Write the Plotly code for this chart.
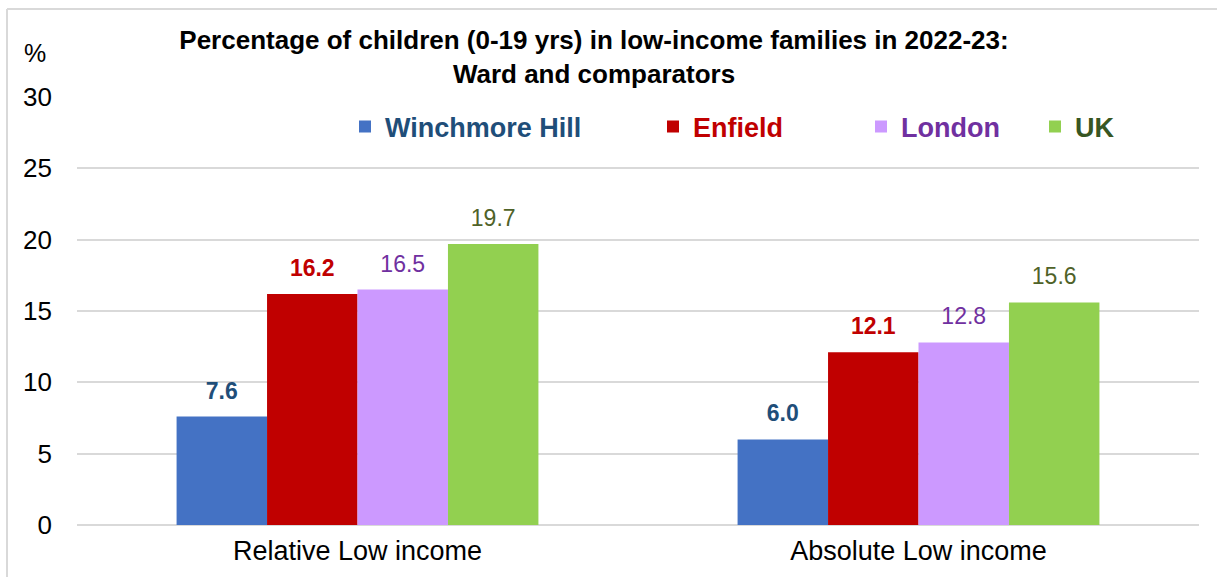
import plotly.graph_objects as go

categories = ["Relative Low income", "Absolute Low income"]
series_names = ["Winchmore Hill", "Enfield", "London", "UK"]
winchmore_hill = [7.6, 6.0]
enfield = [16.2, 12.1]
london = [16.5, 12.8]
uk = [19.7, 15.6]
values = [winchmore_hill, enfield, london, uk]

bar_colors = ["#4472C4", "#C00000", "#CC99FF", "#92D050"]
label_colors = ["#1F4E79", "#C00000", "#7030A0", "#4F6228"]
legend_colors = ["#1F4E79", "#C00000", "#7030A0", "#375623"]
label_bold = [True, True, False, False]

W, H = 1217, 577
L, R, T, B = 77, 18, 97, 52
PW, PH = W - L - R, H - T - B
FONT = "Liberation Sans, Arial, sans-serif"


def px(sx):
    return (sx - L) / PW


def py(sy):
    return (H - B - sy) / PH


fig = go.Figure()
legend_ids = ["legend", "legend2", "legend3", "legend4"]
for i, name in enumerate(series_names):
    fig.add_trace(go.Bar(
        x=categories, y=values[i], name=name,
        marker=dict(color=bar_colors[i], line=dict(width=0)),
        legend=legend_ids[i], hoverinfo="skip",
    ))
# value labels, grouped to align with the bars
for i, name in enumerate(series_names):
    txt = [(f"<b>{v:.1f}</b>" if label_bold[i] else f"{v:.1f}") for v in values[i]]
    fig.add_trace(go.Scatter(
        x=categories, y=values[i], mode="markers+text", text=txt,
        textposition="top center",
        marker=dict(size=18, opacity=0),
        textfont=dict(family=FONT, size=23, color=label_colors[i]),
        showlegend=False, hoverinfo="skip", cliponaxis=False,
    ))

legend_x = [345, 653, 861, 1035]
legends = {}
for i, lid in enumerate(legend_ids):
    legends[lid] = dict(
        orientation="h", xref="container", yref="container",
        x=legend_x[i] / W, y=1 - 127 / H, xanchor="left", yanchor="middle",
        bgcolor="rgba(0,0,0,0)",
        font=dict(family=FONT, size=27, color=legend_colors[i], weight="bold"),
    )

fig.update_layout(
    width=W, height=H,
    margin=dict(l=L, r=R, t=T, b=B, autoexpand=False),
    paper_bgcolor="white", plot_bgcolor="white",
    barmode="group", bargap=0.355, bargroupgap=0,
    scattermode="group", scattergap=0.355,
    font=dict(family=FONT, size=25, color="#000000"),
    title=dict(
        text="<b>Percentage of children (0-19 yrs) in low-income families in 2022-23:<br>Ward and comparators</b>",
        x=594 / W, xanchor="center", xref="container",
        y=1 - 49 / H, yanchor="top", yref="container",
        font=dict(family=FONT, size=26, color="#000000"),
    ),
    xaxis=dict(
        showgrid=False, showline=False, ticks="",
        tickfont=dict(family=FONT, size=27, color="#000000"),
        ticklabelstandoff=7,
    ),
    yaxis=dict(
        range=[0, 30], dtick=5, tick0=0,
        showgrid=True, gridcolor="#D9D9D9", gridwidth=2,
        zeroline=True, zerolinecolor="#D9D9D9", zerolinewidth=2,
        showline=False, ticks="",
        tickfont=dict(family=FONT, size=26, color="#000000"),
        ticklabelstandoff=24,
    ),
    annotations=[dict(
        text="%", xref="paper", yref="paper",
        x=px(35), y=py(53), xanchor="center", yanchor="middle",
        showarrow=False, font=dict(family=FONT, size=25, color="#000000"),
    )],
    shapes=[
        dict(type="line", xref="paper", yref="paper",
             x0=px(7), x1=px(W + 10), y0=py(9), y1=py(9),
             line=dict(color="#D9D9D9", width=2)),
        dict(type="line", xref="paper", yref="paper",
             x0=px(7), x1=px(7), y0=py(9), y1=py(H + 10),
             line=dict(color="#D9D9D9", width=2)),
    ],
    **legends,
)

fig.write_html("out.html", config={"displayModeBar": False},
               post_script="document.body.style.margin='0';")
